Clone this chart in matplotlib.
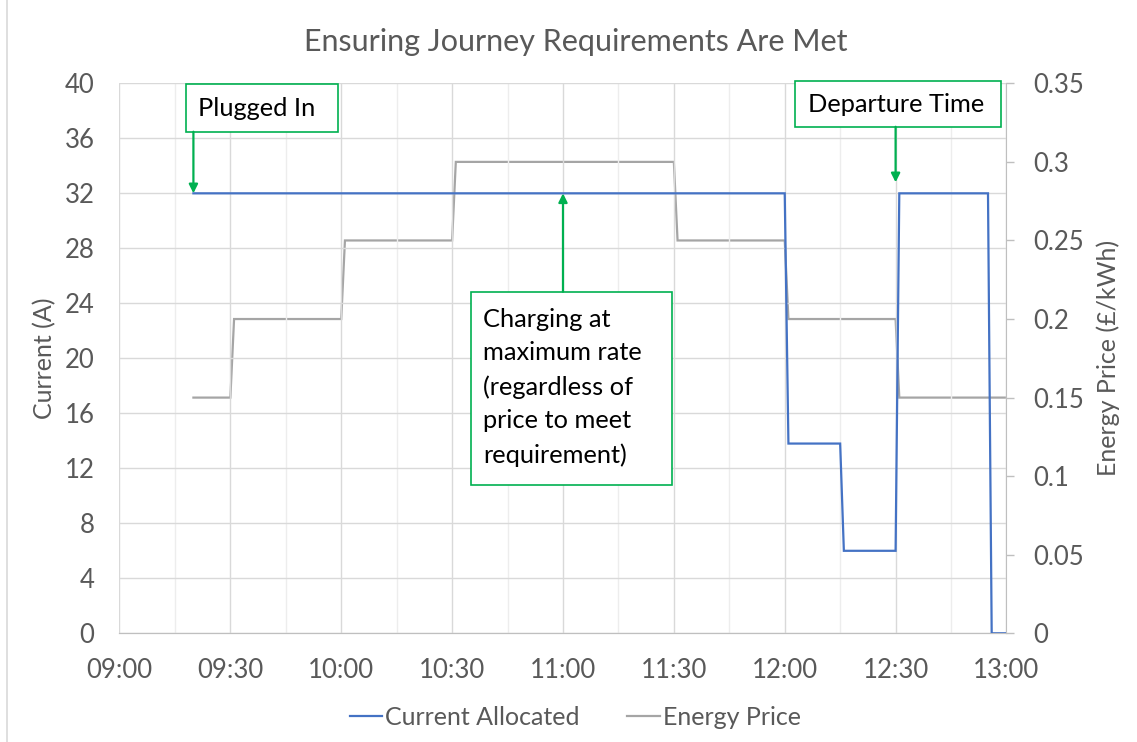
import matplotlib
matplotlib.use("Agg")
import matplotlib.pyplot as plt
from matplotlib.patches import Rectangle
from matplotlib.lines import Line2D
from matplotlib.ticker import FuncFormatter, MultipleLocator
import numpy as np

plt.rcParams["font.family"] = ["Lato", "DejaVu Sans"]

# --- data: step profiles sampled at the change points ---
current_times = ["09:20", "12:00", "12:01", "12:15", "12:16", "12:30", "12:31",
                 "12:55", "12:56", "13:00"]
current_amps = [32, 32, 13.8, 13.8, 6, 6, 32, 32, 0, 0]

price_times = ["09:20", "09:30", "09:31", "10:00", "10:01", "10:30", "10:31",
               "11:30", "11:31", "12:00", "12:01", "12:30", "12:31", "13:00"]
price_gbp = [0.15, 0.15, 0.20, 0.20, 0.25, 0.25, 0.30,
             0.30, 0.25, 0.25, 0.20, 0.20, 0.15, 0.15]

BLUE = "#4472C4"
GREY = "#A5A5A5"
GREEN = "#00B050"
TXT = "#595959"
GRID = "#D9D9D9"
GRID_MINOR = "#EDEDED"
FS = 18.5


def hours(t):
    h, m = t.split(":")
    return int(h) + int(m) / 60.0


def hhmm(x, pos=None):
    tot = int(round(x * 60))
    return f"{tot // 60:02d}:{tot % 60:02d}"


def mins(m):
    # minutes after 09:00 -> hours on the x scale
    return 9 + m / 60.0


fig = plt.figure(figsize=(11.37, 7.42), dpi=100)
ax = fig.add_axes([0.1051, 0.1465, 0.7801, 0.7412])
ax2 = ax.twinx()

x_cur = np.array([hours(t) for t in current_times])
x_pri = np.array([hours(t) for t in price_times])

ax2.plot(x_pri, price_gbp, color=GREY, lw=1.6, solid_joinstyle="miter",
         label="Energy Price")
ax.plot(x_cur, current_amps, color=BLUE, lw=1.6, solid_joinstyle="miter",
        label="Current Allocated", zorder=3)

# current axis drawn above the price axis
ax.set_zorder(ax2.get_zorder() + 1)
ax.patch.set_visible(False)

ax.set_xlim(9, 13)
ax.set_ylim(0, 40)
ax2.set_ylim(0, 0.35)

ax.xaxis.set_major_locator(MultipleLocator(0.5))
ax.xaxis.set_minor_locator(MultipleLocator(0.25))
ax.xaxis.set_major_formatter(FuncFormatter(hhmm))
ax.yaxis.set_major_locator(MultipleLocator(4))
ax2.yaxis.set_major_locator(MultipleLocator(0.05))
ax2.yaxis.set_major_formatter(FuncFormatter(lambda v, p: f"{v:g}"))

ax.grid(True, which="major", color=GRID, lw=1.0)
ax.grid(True, which="minor", axis="x", color=GRID_MINOR, lw=1.0)
ax.set_axisbelow(True)

for a in (ax, ax2):
    for s in ("left", "top", "right"):
        a.spines[s].set_visible(False)
    a.spines["bottom"].set_color("#BFBFBF")
ax2.spines["right"].set_visible(True)
ax2.spines["right"].set_color("#BFBFBF")

ax.tick_params(axis="both", which="both", length=0, labelsize=FS,
               labelcolor=TXT)
ax.tick_params(axis="y", pad=18)
ax.tick_params(axis="x", pad=18)
ax2.tick_params(axis="y", length=6, width=1, color="#BFBFBF", pad=13,
                labelsize=FS, labelcolor=TXT)

ax.set_ylabel("Current (A)", fontsize=18, color=TXT, labelpad=6)
ax2.set_ylabel("Energy Price (£/kWh)", fontsize=18, color=TXT, labelpad=9)

fig.text(0.506, 0.943, "Ensuring Journey Requirements Are Met", fontsize=22,
         color=TXT, ha="center", va="center")


# --- callout boxes ---
def callout(x0, x1, y0, y1, text, tx, ty, va="center", fs=18.3, ls=1.2):
    ax.add_patch(Rectangle((mins(x0), y0), mins(x1) - mins(x0), y1 - y0,
                           facecolor="white", edgecolor=GREEN, lw=1.2,
                           zorder=6, clip_on=False))
    ax.text(mins(tx), ty, text, fontsize=fs, color="black", ha="left", va=va,
            zorder=7, linespacing=ls)


def pointer(x, y_from, y_to):
    ax.annotate("", xy=(mins(x), y_to), xytext=(mins(x), y_from),
                arrowprops=dict(arrowstyle="-|>", color=GREEN, lw=1.6,
                                mutation_scale=13, shrinkA=0, shrinkB=0),
                zorder=6, annotation_clip=False)


callout(18.0, 59.1, 36.48, 39.93, "Plugged In", 21.3, 38.2)
pointer(20, 36.48, 32)

callout(182.7, 238.4, 36.84, 40.2, "Departure Time", 186.2, 38.45)
pointer(210, 36.84, 32.8)

callout(95.2, 149.6, 10.79, 24.84,
        "Charging at\nmaximum rate\n(regardless of\nprice to meet\nrequirement)",
        98.4, 17.9, ls=1.55)
pointer(120, 24.84, 32)

# legend below the plot
h1, l1 = ax.get_legend_handles_labels()
h2, l2 = ax2.get_legend_handles_labels()
fig.legend(h1 + h2, l1 + l2, loc="center", bbox_to_anchor=(0.506, 0.033),
           ncol=2, frameon=False, fontsize=18, labelcolor=TXT,
           handlelength=1.3, handletextpad=0.12, columnspacing=1.9)

# chart frame edge on the left
fig.add_artist(Line2D([0.0062, 0.0062], [0, 1], color="#D9D9D9", lw=1.2))

fig.savefig("out.png", dpi=100, facecolor="white")
